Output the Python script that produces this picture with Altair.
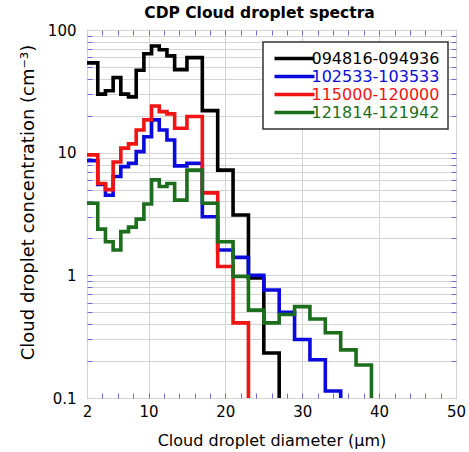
import altair as alt
import pandas as pd

# bin edges (µm)
edges = [2, 3.4, 4.4, 5.4, 6.4, 7.4, 8.4, 9.4, 10.4, 11.4, 12.4, 13.4, 15, 17, 19,
         21, 23, 25, 27, 29, 31, 33, 35, 37, 39]

series = ["094816-094936", "102533-103533", "115000-120000", "121814-121942"]
colors = ["#000000", "#0a0adc", "#f01414", "#1c6e1c"]

black = [54, 30, 32, 41, 30, 28.5, 47, 64, 74, 69, 61.5, 47.5, 59.5, 22, 7.2, 3.1,
         0.95, 0.233]
blue = [8.6, 5.5, 4.5, 6.4, 7.7, 8.2, 10.2, 13.5, 18.5, 15.3, 12.7, 7.8, 8.2, 3.0,
        1.61, 1.4, 1.0, 0.76, 0.5, 0.3, 0.205, 0.114]
red = [9.6, 5.6, 5.0, 8.4, 10.9, 11.8, 15.3, 18.5, 24, 21.6, 20.7, 15.8, 19.7, 4.7,
       1.18, 0.41]
green = [3.87, 2.38, 1.88, 1.61, 2.27, 2.47, 2.87, 3.82, 6.0, 5.3, 5.6, 4.1, 7.2,
         3.87, 1.88, 0.98, 0.52, 0.41, 0.48, 0.556, 0.44, 0.34, 0.247, 0.186]
floor_value = 0.1

x_labels = [2, 10, 20, 30, 40, 50]
x_minor = [4, 6, 8, 10, 12, 14, 16, 18, 20, 22, 24, 26, 28, 30, 32, 34, 36, 38,
           40, 42, 44, 46, 48]
y_all = [0.1, 0.2, 0.3, 0.4, 0.5, 0.6, 0.7, 0.8, 0.9,
         1, 2, 3, 4, 5, 6, 7, 8, 9,
         10, 20, 30, 40, 50, 60, 70, 80, 90, 100]
y_minor = [v for v in y_all if v not in (0.1, 100)]

rows = []
for name, vals in zip(series, [black, blue, red, green]):
    for i, v in enumerate(vals):
        rows.append({"series": name, "d": edges[i], "n": v, "k": i})
    rows.append({"series": name, "d": edges[len(vals)], "n": floor_value, "k": len(vals)})
df = pd.DataFrame(rows)

FONT = "DejaVu Sans"
FRAME = "#6b6bd0"

xscale = alt.Scale(domain=[2, 50], nice=False, zero=False)
yscale = alt.Scale(type="log", domain=[0.1, 100], nice=False)

main = alt.Chart(df).mark_line(interpolate="step-after", strokeWidth=3.6).encode(
    x=alt.X("d:Q", scale=xscale,
            axis=alt.Axis(values=x_labels, title="Cloud droplet diameter (µm)",
                          ticks=False, tickSize=0, domain=False, grid=True,
                          gridColor="#d4d4d4", labelPadding=6, titlePadding=13,
                          labelFlush=False)),
    y=alt.Y("n:Q", scale=yscale,
            axis=alt.Axis(values=y_all, format="~g",
                          labelExpr="indexof(['0.1','1','10','100'], datum.label) >= 0 ? datum.label : ''",
                          title="Cloud droplet concentration (cm⁻³)",
                          titleFontSize=18, titleY=172,
                          ticks=False, tickSize=0, domain=False, grid=True,
                          gridColor="#d4d4d4", labelPadding=11, titlePadding=10)),
    color=alt.Color("series:N", scale=alt.Scale(domain=series, range=colors),
                    legend=alt.Legend(title=None, orient="none", legendX=176, legendY=12,
                                      symbolType="M-1,0H7", symbolSize=100,
                                      symbolStrokeWidth=3.5, labelFont=FONT,
                                      labelFontSize=16, labelOffset=24,
                                      padding=8.5, rowPadding=2,
                                      strokeColor="#333333", fillColor="white",
                                      labelColor={"expr": "scale('color', datum.value)"})),
    order="k:Q",
)


def tick_layer(xo, yo):
    return alt.Chart(df).mark_point(opacity=0).encode(
        x=alt.X("d:Q", scale=xscale,
                axis=alt.Axis(orient=xo, offset=-5, values=x_minor, ticks=True, tickSize=5,
                              tickColor=FRAME, tickWidth=1, labels=False, domain=False,
                              grid=False, title=None)),
        y=alt.Y("n:Q", scale=yscale,
                axis=alt.Axis(orient=yo, offset=-5, values=y_minor, ticks=True, tickSize=5,
                              tickColor=FRAME, tickWidth=1, labels=False, domain=False,
                              grid=False, title=None)),
    )


chart = alt.layer(main, tick_layer("bottom", "left"), tick_layer("top", "right")).resolve_axis(
    x="independent", y="independent"
).properties(
    width=369, height=368,
    autosize=alt.AutoSizeParams(type="none"),
    padding={"left": 87, "top": 30, "right": 13, "bottom": 54},
    title=alt.TitleParams("CDP Cloud droplet spectra", font=FONT, fontSize=15.5,
                          fontWeight="bold", anchor="middle", offset=2, dx=-12,
                          color="black"),
).configure_view(
    stroke=FRAME, strokeWidth=1
).configure_axis(
    labelFont=FONT, labelFontSize=15, labelColor="black",
    titleFont=FONT, titleFontSize=16, titleFontWeight="normal", titleColor="black"
).configure_legend(strokeWidth=1.5)

chart.save("out.html", embed_options={"renderer": "svg", "actions": False})
